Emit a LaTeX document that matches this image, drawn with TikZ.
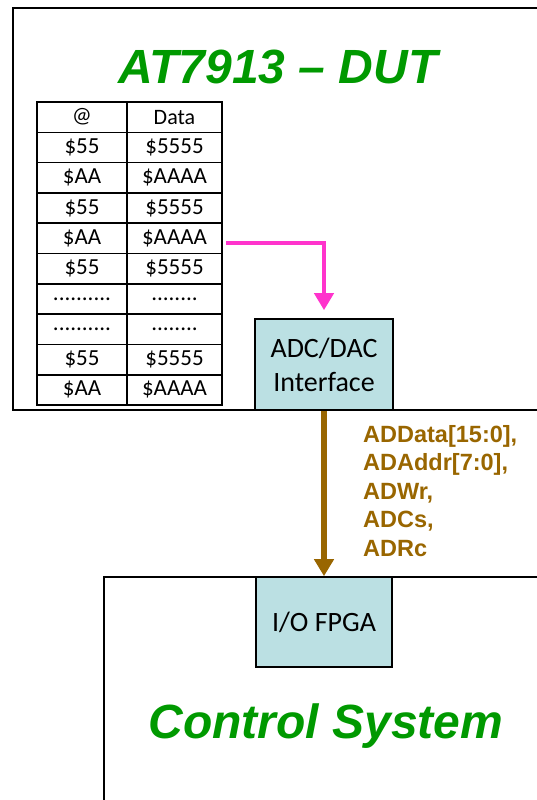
\documentclass[tikz,border=0pt]{standalone}
\usepackage{fontspec}
\setmainfont{Carlito}
\newfontfamily\arialfont{Liberation Sans}
\usetikzlibrary{arrows.meta}
\definecolor{ttlgreen}{HTML}{009900}
\definecolor{boxfill}{HTML}{BBE0E3}
\definecolor{pinkline}{HTML}{FF33CC}
\definecolor{busbrown}{HTML}{996600}
\newcommand\mydotsa{..........}
\newcommand\mydotsb{........}
\begin{document}
\begin{tikzpicture}[x=1pt,y=-1pt,
  frame/.style={draw=black,line width=2pt},
  blk/.style={draw=black,line width=1.6pt,fill=boxfill,inner sep=0pt,align=center,
    font=\fontsize{28}{34}\selectfont},
  cell/.style={draw=black,line width=1.6pt,minimum height=30.3pt,inner sep=0pt,
    font=\fontsize{23}{25}\selectfont},
  hcell/.style={cell,font=\fontsize{22}{24}\selectfont},
  title/.style={text=ttlgreen,font=\arialfont\bfseries\itshape\fontsize{48}{48}\selectfont,inner sep=0pt},
  pinkarrow/.style={draw=pinkline,line width=4pt,-{Triangle[width=19pt,length=17pt]}},
  busarrow/.style={draw=busbrown,line width=5.5pt,-{Triangle[width=19pt,length=17pt]}},
  buslabel/.style={text=busbrown,font=\arialfont\bfseries\fontsize{23.5}{28.5}\selectfont,
    align=left,inner sep=0pt}]
\useasboundingbox (0,0) rectangle (536,800);
% DUT frame
\draw[frame] (545,8) -- (13,8) -- (13,410) -- (545,410);
% Control system frame
\draw[frame] (545,577) -- (104,577) -- (104,805);
% titles
\node[title,anchor=base] (duttitle) at (278,83) {AT7913 – DUT};
\node[title,anchor=base] (ctltitle) at (326,738) {Control System};
% table header
\node[hcell,minimum width=90pt] (a0) at (82,117.15) {@};
\node[hcell,minimum width=95pt] (d0) at (174.5,117.15) {Data};
% table body
\foreach \i/\a/\d in {1/\$55/\$5555,2/\$AA/\$AAAA,3/\$55/\$5555,4/\$AA/\$AAAA,
  5/\$55/\$5555,6/\mydotsa/\mydotsb,7/\mydotsa/\mydotsb,8/\$55/\$5555,9/\$AA/\$AAAA}{
  \node[cell,minimum width=90pt] (a\i) at (82,102+30.3*\i+15.15) {\a};
  \node[cell,minimum width=95pt] (d\i) at (174.5,102+30.3*\i+15.15) {\d};
}
% blocks
\node[blk,minimum width=138pt,minimum height=91pt] (adc) at (324,364.5) {ADC/DAC\\Interface};
\node[blk,minimum width=136pt,minimum height=90pt] (fpga) at (324,622) {I/O FPGA};
% connectors
\draw[pinkarrow] ([shift={(3,4.5)}]d4.east) -| ([yshift=8pt]adc.north);
\draw[busarrow] (adc.south) -- (fpga.north);
\node[buslabel,anchor=north west] (bus) at (363,425) {ADData[15:0],\\ADAddr[7:0],\\ADWr,\\ADCs,\\ADRc};
\end{tikzpicture}
\end{document}
